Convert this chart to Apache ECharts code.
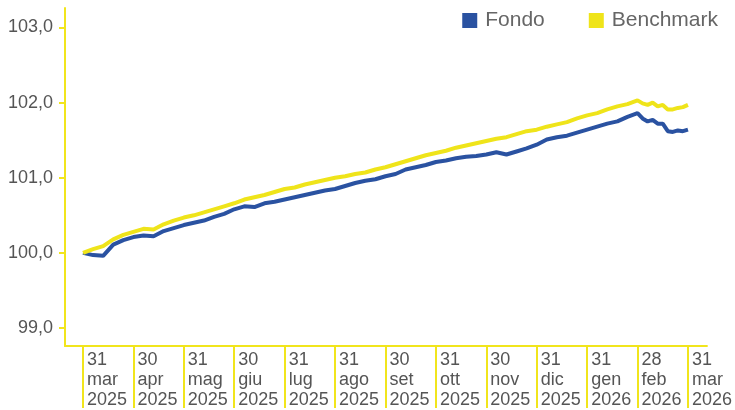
<!DOCTYPE html>
<html>
<head>
<meta charset="utf-8">
<title>Fondo vs Benchmark</title>
<script src="https://cdn.jsdelivr.net/npm/echarts@6/dist/echarts.min.js"></script>
<style>
  html, body { margin: 0; padding: 0; background: #ffffff; }
  #chart { width: 735px; height: 410px; }
</style>
</head>
<body>
<div id="chart"></div>
<script>
// Month-end labels (day / month / year)
const tickDays   = ['31', '30', '31', '30', '31', '31', '30', '31', '30', '31', '31', '28', '31'];
const tickMonths = ['mar', 'apr', 'mag', 'giu', 'lug', 'ago', 'set', 'ott', 'nov', 'dic', 'gen', 'feb', 'mar'];
const tickYears  = ['2025', '2025', '2025', '2025', '2025', '2025', '2025', '2025', '2025', '2025', '2026', '2026', '2026'];
const monthTicks = [0, 1, 2, 3, 4, 5, 6, 7, 8, 9, 10, 11, 12];
const yTicks = [99, 100, 101, 102, 103];

// Sample positions, in months since 31 mar 2025
const samplePos = [
  0.0, 0.2, 0.4, 0.6, 0.8, 1.0, 1.2, 1.4, 1.6, 1.8,
  2.0, 2.2, 2.4, 2.6, 2.8, 3.0, 3.2, 3.4, 3.6, 3.8,
  4.0, 4.2, 4.4, 4.6, 4.8, 5.0, 5.2, 5.4, 5.6, 5.8,
  6.0, 6.2, 6.4, 6.6, 6.8, 7.0, 7.2, 7.4, 7.6, 7.8,
  8.0, 8.2, 8.4, 8.6, 8.8, 9.0, 9.2, 9.4, 9.6, 9.8,
  10.0, 10.2, 10.4, 10.6, 10.8,
  11.0, 11.1, 11.2, 11.3, 11.4, 11.5, 11.6, 11.7, 11.8, 11.9, 12.0
];

const fondo = [
  100.00, 99.97, 99.96, 100.11, 100.17, 100.21, 100.23, 100.22, 100.29, 100.33,
  100.37, 100.40, 100.43, 100.48, 100.52, 100.58, 100.62, 100.61, 100.66, 100.68,
  100.71, 100.74, 100.77, 100.80, 100.83, 100.85, 100.89, 100.93, 100.96, 100.98,
  101.02, 101.05, 101.11, 101.14, 101.17, 101.21, 101.23, 101.26, 101.28, 101.29,
  101.31, 101.34, 101.31, 101.35, 101.39, 101.44, 101.51, 101.54, 101.56, 101.60,
  101.64, 101.68, 101.72, 101.75, 101.81,
  101.86, 101.79, 101.75, 101.77, 101.72, 101.72, 101.62, 101.61, 101.63, 101.62, 101.64
];

const benchmark = [
  100.00, 100.05, 100.09, 100.18, 100.24, 100.28, 100.32, 100.31, 100.38, 100.43,
  100.47, 100.50, 100.54, 100.58, 100.62, 100.66, 100.71, 100.74, 100.77, 100.81,
  100.85, 100.87, 100.91, 100.94, 100.97, 101.00, 101.02, 101.05, 101.07, 101.11,
  101.14, 101.18, 101.22, 101.26, 101.30, 101.33, 101.36, 101.40, 101.43, 101.46,
  101.49, 101.52, 101.54, 101.58, 101.62, 101.64, 101.68, 101.71, 101.74, 101.79,
  101.83, 101.86, 101.91, 101.95, 101.98,
  102.03, 101.99, 101.97, 102.00, 101.95, 101.97, 101.91, 101.91, 101.93, 101.94, 101.97
];

const BLUE = '#2a52a1';
const YELLOW = '#efe41a';
const AXIS = '#f1e51c';
const TEXT = '#555555';
const FONT = '"Liberation Sans", Arial, sans-serif';

const pairs = (vals) => samplePos.map((x, i) => [x, vals[i]]);

const chart = echarts.init(document.getElementById('chart'), null, { renderer: 'canvas' });
chart.setOption({
  animation: false,
  textStyle: { fontFamily: FONT },
  grid: { left: 65, right: 28, top: 8, bottom: 62, containLabel: false },
  legend: {
    right: 12,
    top: 5,
    icon: 'rect',
    itemWidth: 15,
    itemHeight: 15,
    itemGap: 44,
    textStyle: { fontSize: 21, color: '#666666', fontFamily: FONT, padding: [0, 0, 0, 3] },
    data: ['Fondo', 'Benchmark']
  },
  xAxis: {
    type: 'value',
    min: -0.357,
    max: 12.376,
    axisLine: { show: true, onZero: false, lineStyle: { color: AXIS, width: 2 } },
    axisTick: {
      show: true,
      customValues: monthTicks,
      length: 62,
      lineStyle: { color: AXIS, width: 2 }
    },
    axisLabel: {
      customValues: monthTicks,
      align: 'left',
      margin: 4,
      padding: [0, 0, 0, 4],
      fontSize: 18,
      lineHeight: 20,
      color: TEXT,
      fontFamily: FONT,
      formatter: (v) => {
        const i = Math.round(v);
        return tickDays[i] + '\n' + tickMonths[i] + '\n' + tickYears[i];
      }
    },
    splitLine: { show: false }
  },
  yAxis: {
    type: 'value',
    min: 98.76,
    max: 103.26,
    axisLine: { show: true, onZero: false, lineStyle: { color: AXIS, width: 2 } },
    axisTick: {
      show: true,
      customValues: yTicks,
      length: 6,
      lineStyle: { color: AXIS, width: 2 }
    },
    axisLabel: {
      customValues: yTicks,
      margin: 12,
      fontSize: 18,
      color: TEXT,
      fontFamily: FONT,
      formatter: (v) => v.toFixed(1).replace('.', ',')
    },
    splitLine: { show: false }
  },
  series: [
    {
      name: 'Fondo',
      type: 'line',
      data: pairs(fondo),
      showSymbol: false,
      symbol: 'none',
      lineStyle: { color: BLUE, width: 4 },
      itemStyle: { color: BLUE }
    },
    {
      name: 'Benchmark',
      type: 'line',
      data: pairs(benchmark),
      showSymbol: false,
      symbol: 'none',
      lineStyle: { color: YELLOW, width: 4 },
      itemStyle: { color: YELLOW }
    }
  ]
});
</script>
</body>
</html>
